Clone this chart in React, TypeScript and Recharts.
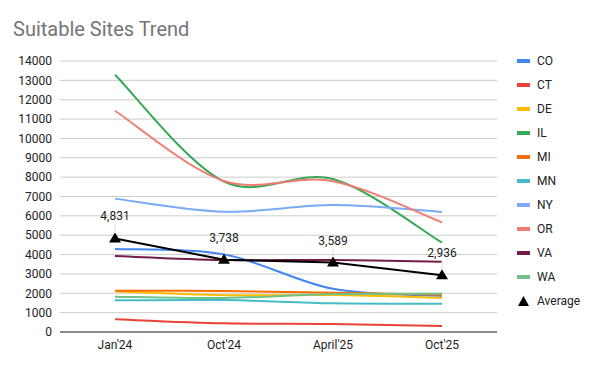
import React from "react";
import { CartesianGrid, Line, LineChart, XAxis, YAxis } from "recharts";

const months = ["Jan'24", "Oct'24", "April'25", "Oct'25"];
const yTicks = [0, 1000, 2000, 3000, 4000, 5000, 6000, 7000, 8000, 9000, 10000, 11000, 12000, 13000, 14000];

const co = [4290, 4010, 2230, 1860];
const ct = [655, 450, 410, 310];
const de = [2090, 1900, 1910, 1770];
const il = [13290, 7765, 7900, 4615];
const mi = [2135, 2120, 2030, 1920];
const mn = [1640, 1650, 1480, 1465];
const ny = [6890, 6215, 6560, 6200];
const or = [11430, 7800, 7790, 5665];
const va = [3925, 3720, 3720, 3630];
const wa = [1825, 1755, 1960, 1980];
const average = [4831, 3738, 3589, 2936];

const states = [
  { key: "CO", values: co, color: "#4285F4" },
  { key: "CT", values: ct, color: "#EA4335" },
  { key: "DE", values: de, color: "#FBBC04" },
  { key: "IL", values: il, color: "#34A853" },
  { key: "MI", values: mi, color: "#FF6D01" },
  { key: "MN", values: mn, color: "#46BDC6" },
  { key: "NY", values: ny, color: "#7BAAF7" },
  { key: "OR", values: or, color: "#F07B72" },
  { key: "VA", values: va, color: "#741B47" },
  { key: "WA", values: wa, color: "#71C287" },
];

const data = months.map((m, i) => {
  const row: Record<string, string | number> = { month: m, Average: average[i] };
  states.forEach((s) => (row[s.key] = s.values[i]));
  return row;
});

const FONT = "Roboto, Arial, sans-serif";

// smooth curve through every point, a bit like the sheets "function" curve
function smoothCurve(context: any) {
  let pts: [number, number][] = [];
  return {
    areaStart() {},
    areaEnd() {},
    lineStart() {
      pts = [];
    },
    point(x: number, y: number) {
      pts.push([+x, +y]);
    },
    lineEnd() {
      if (!pts.length) return;
      context.moveTo(pts[0][0], pts[0][1]);
      for (let i = 0; i < pts.length - 1; i++) {
        const p0 = pts[i - 1] || pts[i];
        const p1 = pts[i];
        const p2 = pts[i + 1];
        const p3 = pts[i + 2] || p2;
        context.bezierCurveTo(
          p1[0] + (p2[0] - p0[0]) / 6,
          p1[1] + (p2[1] - p0[1]) / 6,
          p2[0] - (p3[0] - p1[0]) / 6,
          p2[1] - (p3[1] - p1[1]) / 6,
          p2[0],
          p2[1]
        );
      }
    },
  };
}

const Triangle = (props: any) => {
  const { cx, cy } = props;
  if (cx == null || cy == null) return null;
  return <polygon points={`${cx},${cy - 6} ${cx - 6},${cy + 4} ${cx + 6},${cy + 4}`} fill="#000" />;
};

const AvgLabel = (props: any) => {
  const { x, y, value } = props;
  return (
    <g>
      <line x1={x} x2={x} y1={y - 15} y2={y - 6} stroke="#ddd" strokeWidth={1} />
      <text x={x} y={y - 18} textAnchor="middle" fontSize={12} fontFamily={FONT} fill="#222">
        {Number(value).toLocaleString("en-US")}
      </text>
    </g>
  );
};

const LegendBox = () => (
  <div
    style={{
      position: "absolute",
      left: 517,
      top: 49,
      width: 80,
      fontFamily: FONT,
      fontSize: 12,
      color: "#222",
    }}
  >
    {states.map((s) => (
      <div key={s.key} style={{ height: 24, display: "flex", alignItems: "center" }}>
        <span style={{ display: "inline-block", width: 13, height: 4, background: s.color, marginRight: 7 }} />
        {s.key}
      </div>
    ))}
    <div style={{ height: 24, display: "flex", alignItems: "center" }}>
      <svg width={13} height={12} style={{ marginRight: 7 }}>
        <polygon points="6.5,1 1,11 12,11" fill="#000" />
      </svg>
      Average
    </div>
  </div>
);

export default function App() {
  return (
    <div style={{ position: "absolute", left: 0, top: 0, width: 600, height: 371, background: "#fff" }}>
      <div
        style={{
          position: "absolute",
          left: 13,
          top: 17,
          fontFamily: FONT,
          fontSize: 20,
          color: "#757575",
          zIndex: 1,
        }}
      >
        Suitable Sites Trend
      </div>
      <LineChart width={600} height={371} data={data} margin={{ top: 61, right: 103, bottom: 9, left: 0 }}>
        <CartesianGrid stroke="#ccc" vertical={false} />
        <XAxis
          dataKey="month"
          padding={{ left: 55, right: 55 }}
          tickLine={false}
          axisLine={{ stroke: "#333" }}
          tick={{ fontSize: 12, fill: "#222", fontFamily: FONT }}
          interval={0}
        />
        <YAxis
          width={60}
          domain={[0, 14000]}
          ticks={yTicks}
          interval={0}
          tickLine={false}
          axisLine={false}
          tick={{ fontSize: 12, fill: "#222", fontFamily: FONT }}
        />
        {states.map((s) => (
          <Line
            key={s.key}
            dataKey={s.key}
            type={smoothCurve as any}
            stroke={s.color}
            strokeWidth={2}
            dot={false}
            activeDot={false}
            isAnimationActive={false}
          />
        ))}
        <Line
          dataKey="Average"
          type="linear"
          stroke="#000"
          strokeWidth={2}
          dot={<Triangle />}
          activeDot={false}
          label={<AvgLabel />}
          isAnimationActive={false}
        />
      </LineChart>
      <LegendBox />
    </div>
  );
}
